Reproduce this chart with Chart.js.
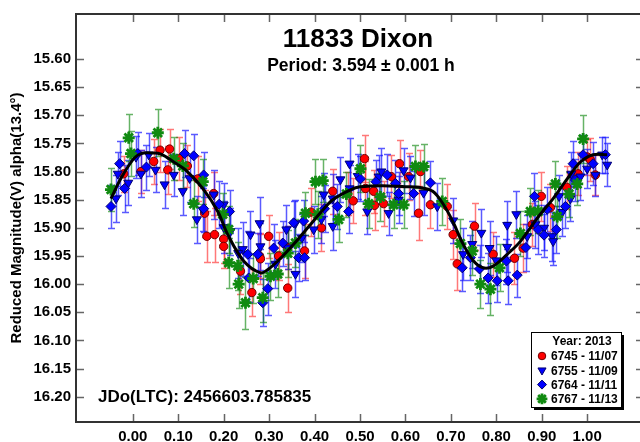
<!DOCTYPE html>
<html>
<head>
<meta charset="utf-8">
<script src="https://cdn.jsdelivr.net/npm/chart.js@4.4.0/dist/chart.umd.min.js"></script>
<style>
  html, body { margin: 0; padding: 0; background: #fff; overflow: hidden; }
  #wrap { width: 650px; height: 442px; }
</style>
</head>
<body>
<div id="wrap"><canvas id="lc" width="650" height="442"></canvas></div>
<script>
// axis ticks
const xTicks = [0.0, 0.1, 0.2, 0.3, 0.4, 0.5, 0.6, 0.7, 0.8, 0.9, 1.0];
const yTicks = [15.60, 15.65, 15.70, 15.75, 15.80, 15.85, 15.90, 15.95, 16.00, 16.05, 16.10, 16.15, 16.20];

// 6745 - 11/07
const redPhase = [-0.020, 0.018, 0.060, 0.077, 0.081, 0.101, 0.143, 0.158, 0.163, 0.178,
  0.180, 0.200, 0.200, 0.237, 0.262, 0.279, 0.281, 0.299, 0.321, 0.341,
  0.341, 0.378, 0.415, 0.440, 0.473, 0.510, 0.512, 0.530, 0.532, 0.552,
  0.569, 0.587, 0.607, 0.629, 0.633, 0.655, 0.692, 0.714, 0.752, 0.793,
  0.840, 0.859, 0.879, 0.899, 0.919, 0.980, 1.000, 1.007, 1.018, 0.046,
  0.120, 0.392, 0.485, 0.705, 0.955];
const redMag = [15.804, 15.800, 15.762, 15.797, 15.760, 15.777, 15.813, 15.874, 15.915, 15.839,
  15.912, 15.920, 15.933, 15.977, 16.015, 15.950, 15.955, 15.915, 15.950, 16.007,
  15.935, 15.941, 15.900, 15.835, 15.839, 15.777, 15.830, 15.835, 15.860, 15.857,
  15.809, 15.786, 15.809, 15.874, 15.800, 15.859, 15.862, 15.964, 15.897, 15.947,
  15.954, 15.936, 15.894, 15.844, 15.864, 15.804, 15.774, 15.779, 15.806, 15.782,
  15.790, 15.872, 15.852, 15.912, 15.828];
const redErr = [0.032, 0.038, 0.038, 0.042, 0.035, 0.038, 0.040, 0.042, 0.045, 0.038,
  0.048, 0.042, 0.038, 0.040, 0.042, 0.040, 0.044, 0.038, 0.042, 0.042,
  0.038, 0.048, 0.042, 0.040, 0.038, 0.042, 0.048, 0.038, 0.044, 0.040,
  0.038, 0.042, 0.042, 0.048, 0.038, 0.042, 0.040, 0.046, 0.042, 0.040,
  0.046, 0.042, 0.038, 0.044, 0.042, 0.038, 0.032, 0.038, 0.035, 0.040,
  0.038, 0.042, 0.040, 0.044, 0.038];

// 6755 - 11/09
const triPhase = [-0.037, -0.033, 0.007, 0.018, 0.035, 0.050, 0.070, 0.090, 0.110, 0.141,
  0.154, 0.178, 0.200, 0.200, 0.215, 0.242, 0.259, 0.279, 0.281, 0.314,
  0.338, 0.341, 0.358, 0.358, 0.398, 0.415, 0.420, 0.440, 0.440, 0.457,
  0.477, 0.477, 0.516, 0.541, 0.547, 0.563, 0.596, 0.611, 0.670, 0.705,
  0.727, 0.747, 0.767, 0.785, 0.824, 0.824, 0.844, 0.868, 0.886, 0.905,
  0.923, 0.925, 0.938, 0.963, 0.965, 0.985, 1.000, 1.018, 1.033, 1.044,
  -0.010, 0.125, 0.232, 0.372, 0.495, 0.585, 0.640, 0.800, 0.945];
const triMag = [15.848, 15.804, 15.774, 15.804, 15.770, 15.797, 15.823, 15.806, 15.835, 15.885,
  15.868, 15.841, 15.859, 15.899, 15.906, 15.938, 15.912, 15.892, 15.933, 15.964,
  15.903, 15.935, 15.892, 15.982, 15.903, 15.885, 15.841, 15.897, 15.848, 15.814,
  15.786, 15.830, 15.871, 15.809, 15.800, 15.874, 15.798, 15.811, 15.862, 15.887,
  15.947, 15.929, 15.909, 15.936, 15.895, 15.934, 15.876, 15.915, 15.894, 15.900,
  15.915, 15.924, 15.844, 15.848, 15.804, 15.809, 15.795, 15.806, 15.770, 15.788,
  15.820, 15.812, 15.945, 15.918, 15.808, 15.850, 15.838, 15.958, 15.872];
const triErr = [0.042, 0.038, 0.038, 0.042, 0.038, 0.040, 0.042, 0.038, 0.042, 0.042,
  0.038, 0.044, 0.038, 0.046, 0.042, 0.048, 0.042, 0.046, 0.042, 0.042,
  0.044, 0.038, 0.042, 0.040, 0.042, 0.042, 0.038, 0.042, 0.044, 0.040,
  0.046, 0.042, 0.040, 0.038, 0.042, 0.038, 0.040, 0.038, 0.042, 0.040,
  0.046, 0.042, 0.042, 0.048, 0.042, 0.044, 0.042, 0.038, 0.042, 0.040,
  0.044, 0.042, 0.038, 0.040, 0.038, 0.042, 0.035, 0.038, 0.032, 0.038,
  0.040, 0.042, 0.044, 0.042, 0.040, 0.042, 0.040, 0.044, 0.042];

// 6764 - 11/11
const diaPhase = [-0.048, -0.029, -0.018, 0.011, 0.114, 0.134, 0.156, 0.156, 0.213, 0.253,
  0.255, 0.275, 0.286, 0.297, 0.310, 0.330, 0.354, 0.365, 0.376, 0.378,
  0.422, 0.475, 0.501, 0.560, 0.578, 0.585, 0.618, 0.655, 0.725, 0.743,
  0.763, 0.782, 0.802, 0.822, 0.826, 0.846, 0.884, 0.892, 0.905, 0.912,
  0.932, 0.952, 0.969, 0.974, 0.991, 1.013, 1.040, 0.030, 0.190, 0.450,
  0.535, 0.865];
const diaMag = [15.862, 15.786, 15.830, 15.768, 15.768, 15.772, 15.806, 15.866, 15.871, 15.947,
  15.989, 15.947, 16.033, 16.008, 15.936, 15.927, 15.891, 15.953, 15.888, 15.953,
  15.866, 15.871, 15.813, 15.806, 15.821, 15.839, 15.839, 15.820, 15.971, 15.953,
  15.973, 15.989, 15.994, 15.959, 15.994, 15.984, 15.844, 15.903, 15.913, 15.867,
  15.903, 15.862, 15.786, 15.815, 15.770, 15.786, 15.770, 15.792, 15.858, 15.862,
  15.818, 15.935];
const diaErr = [0.038, 0.040, 0.042, 0.038, 0.042, 0.038, 0.040, 0.042, 0.038, 0.042,
  0.042, 0.038, 0.042, 0.046, 0.042, 0.040, 0.038, 0.042, 0.038, 0.040,
  0.042, 0.038, 0.040, 0.038, 0.042, 0.038, 0.040, 0.038, 0.042, 0.040,
  0.042, 0.044, 0.038, 0.040, 0.042, 0.038, 0.042, 0.044, 0.038, 0.040,
  0.042, 0.038, 0.040, 0.038, 0.035, 0.038, 0.032, 0.040, 0.042, 0.040,
  0.038, 0.042];

// 6767 - 11/13
const grnPhase = [-0.048, -0.009, -0.004, 0.055, 0.090, 0.134, 0.154, 0.198, 0.211, 0.211,
  0.231, 0.233, 0.248, 0.286, 0.303, 0.319, 0.341, 0.358, 0.380, 0.402,
  0.407, 0.418, 0.453, 0.501, 0.519, 0.574, 0.596, 0.622, 0.640, 0.681,
  0.721, 0.747, 0.765, 0.787, 0.807, 0.853, 0.875, 0.892, 0.930, 0.934,
  0.978, 0.991, 0.110, 0.265, 0.470, 0.545, 0.960];
const grnMag = [15.832, 15.740, 15.768, 15.731, 15.777, 15.857, 15.818, 15.876, 15.903, 15.962,
  15.968, 16.000, 16.033, 16.024, 15.986, 15.982, 15.945, 15.927, 15.874, 15.818,
  15.876, 15.816, 15.885, 15.795, 15.857, 15.859, 15.859, 15.791, 15.791, 15.853,
  15.928, 15.941, 16.000, 16.009, 15.971, 15.910, 15.871, 15.871, 15.822, 15.880,
  15.822, 15.742, 15.790, 15.990, 15.840, 15.845, 15.840];
const grnErr = [0.038, 0.042, 0.040, 0.042, 0.038, 0.042, 0.040, 0.038, 0.042, 0.044,
  0.042, 0.042, 0.046, 0.044, 0.042, 0.040, 0.042, 0.042, 0.038, 0.040,
  0.042, 0.038, 0.040, 0.042, 0.044, 0.042, 0.042, 0.038, 0.040, 0.042,
  0.044, 0.042, 0.042, 0.046, 0.042, 0.040, 0.042, 0.038, 0.040, 0.038,
  0.038, 0.042, 0.040, 0.044, 0.040, 0.042, 0.040];

// Fourier fit
const fitPhase = [-0.048, -0.026, 0.002, 0.018, 0.044, 0.062, 0.090, 0.120, 0.156, 0.187,
  0.209, 0.244, 0.281, 0.299, 0.319, 0.354, 0.391, 0.410, 0.440, 0.480,
  0.500, 0.550, 0.600, 0.630, 0.660, 0.684, 0.705, 0.727, 0.750, 0.771,
  0.793, 0.824, 0.853, 0.890, 0.925, 0.956, 0.985, 1.013, 1.044];
const fitMag = [15.848, 15.812, 15.777, 15.768, 15.767, 15.769, 15.783, 15.800, 15.832, 15.871,
  15.912, 15.959, 15.980, 15.973, 15.959, 15.929, 15.894, 15.876, 15.850, 15.832,
  15.827, 15.825, 15.827, 15.828, 15.835, 15.859, 15.890, 15.929, 15.959, 15.971,
  15.968, 15.947, 15.924, 15.883, 15.848, 15.813, 15.783, 15.770, 15.770];

const FONT = '"Liberation Sans", Arial, sans-serif';

function points(ph, mag, err) {
  return ph.map((x, i) => ({ x: x, y: mag[i], e: err ? err[i] : 0 }));
}

// vertical error bars with caps, drawn under the markers
const errorBars = {
  id: 'errorBars',
  beforeDatasetsDraw(chart) {
    const { ctx, scales: { x, y } } = chart;
    ctx.save();
    ctx.lineWidth = 1.5;
    chart.data.datasets.forEach(ds => {
      if (!ds.errColor) return;
      ctx.strokeStyle = ds.errColor;
      ds.data.forEach(p => {
        const px = Math.round(x.getPixelForValue(p.x)) + 0.5;
        const y1 = Math.round(y.getPixelForValue(p.y - p.e)) + 0.5;
        const y2 = Math.round(y.getPixelForValue(p.y + p.e)) + 0.5;
        ctx.beginPath();
        ctx.moveTo(px, y1); ctx.lineTo(px, y2);
        ctx.moveTo(px - 3.5, y1); ctx.lineTo(px + 3.5, y1);
        ctx.moveTo(px - 3.5, y2); ctx.lineTo(px + 3.5, y2);
        ctx.stroke();
      });
    });
    ctx.restore();
  }
};

// frame, inward ticks, titles and the legend box
const decor = {
  id: 'decor',
  afterDraw(chart) {
    const { ctx, chartArea: a, scales: { x, y } } = chart;
    ctx.save();
    ctx.strokeStyle = '#666';
    ctx.lineWidth = 1.5;
    ctx.beginPath();
    xTicks.forEach(v => {
      const px = Math.round(x.getPixelForValue(v)) + 0.5;
      ctx.moveTo(px, a.bottom); ctx.lineTo(px, a.bottom - 8);
      ctx.moveTo(px, a.top); ctx.lineTo(px, a.top + 8);
    });
    yTicks.forEach(v => {
      const py = Math.round(y.getPixelForValue(v)) + 0.5;
      ctx.moveTo(a.left, py); ctx.lineTo(a.left + 8, py);
      ctx.moveTo(a.right, py); ctx.lineTo(a.right - 8, py);
    });
    ctx.stroke();

    ctx.strokeStyle = '#333';
    ctx.lineWidth = 2;
    ctx.strokeRect(a.left, a.top, a.right - a.left, a.bottom - a.top);

    const cx = (a.left + a.right) / 2;
    ctx.fillStyle = '#000';
    ctx.textAlign = 'center';
    ctx.textBaseline = 'middle';
    ctx.font = 'bold 26px ' + FONT;
    ctx.fillText('11833 Dixon', cx - 2, 40);
    ctx.font = 'bold 17.5px ' + FONT;
    ctx.fillText('Period: 3.594 \u00b1 0.001 h', cx + 1, 66);

    ctx.textAlign = 'left';
    ctx.font = 'bold 17px ' + FONT;
    ctx.fillText('JDo(LTC): 2456603.785835', 98, 397);

    // legend
    const lx = 531, ly = 332, lw = 90, lh = 75;
    ctx.fillStyle = '#000';
    ctx.fillRect(lx + 3, ly + 3, lw, lh);
    ctx.fillStyle = '#fff';
    ctx.fillRect(lx, ly, lw, lh);
    ctx.strokeStyle = '#000';
    ctx.lineWidth = 1;
    ctx.strokeRect(lx + 0.5, ly + 0.5, lw, lh);

    ctx.fillStyle = '#000';
    ctx.font = 'bold 12px ' + FONT;
    ctx.textAlign = 'center';
    ctx.fillText('Year: 2013', lx + lw / 2 + 6, ly + 10);
    ctx.textAlign = 'left';
    chart.data.datasets.filter(ds => ds.errColor).forEach((ds, i) => {
      const ry = ly + 24 + i * 14.3;
      ctx.fillStyle = ds.backgroundColor;
      ctx.strokeStyle = ds.borderColor;
      ctx.lineWidth = ds.borderWidth;
      Chart.helpers.drawPoint(ctx, {
        pointStyle: ds.pointStyle, radius: ds.pointRadius * 0.9,
        rotation: ds.rotation || 0, borderWidth: ds.borderWidth
      }, lx + 11, ry);
      ctx.fillStyle = '#000';
      ctx.fillText(ds.label, lx + 20, ry + 1);
    });
    ctx.restore();
  }
};

new Chart(document.getElementById('lc'), {
  type: 'scatter',
  data: {
    datasets: [
      {
        label: '6745 - 11/07', data: points(redPhase, redMag, redErr),
        pointStyle: 'circle', pointRadius: 4.2, backgroundColor: '#ff0000',
        borderColor: '#700000', borderWidth: 1, errColor: 'rgba(255,30,30,0.6)', order: 4
      },
      {
        label: '6755 - 11/09', data: points(triPhase, triMag, triErr),
        pointStyle: 'triangle', rotation: 180, pointRadius: 5.2, backgroundColor: '#0000ff',
        borderColor: '#000070', borderWidth: 1, errColor: 'rgba(20,20,255,0.7)', order: 3
      },
      {
        label: '6764 - 11/11', data: points(diaPhase, diaMag, diaErr),
        pointStyle: 'rectRot', pointRadius: 5, backgroundColor: '#0000ff',
        borderColor: '#000070', borderWidth: 1, errColor: 'rgba(20,20,255,0.7)', order: 2
      },
      {
        label: '6767 - 11/13', data: points(grnPhase, grnMag, grnErr),
        pointStyle: 'star', pointRadius: 6, backgroundColor: '#108a10',
        borderColor: '#108a10', borderWidth: 2.8, errColor: 'rgba(0,128,0,0.6)', order: 1
      },
      {
        label: 'fit', data: points(fitPhase, fitMag),
        showLine: true, pointRadius: 0, borderColor: '#000', borderWidth: 3,
        tension: 0.35, order: 0
      }
    ]
  },
  options: {
    responsive: false,
    animation: false,
    devicePixelRatio: 1,
    layout: { padding: { top: 11, right: 6, left: 0, bottom: 0 }, autoPadding: false },
    plugins: { legend: { display: false }, tooltip: { enabled: false } },
    scales: {
      x: {
        type: 'linear', min: -0.125, max: 1.125,
        afterBuildTicks: s => { s.ticks = xTicks.map(v => ({ value: v })); },
        afterFit: s => { s.height = 20; },
        grid: { display: false, drawTicks: false },
        border: { display: false },
        ticks: {
          callback: v => v.toFixed(2), color: '#000', padding: 6,
          maxRotation: 0, autoSkip: false, font: { family: FONT, size: 15, weight: 'bold' }
        }
      },
      y: {
        type: 'linear', reverse: true, min: 15.52, max: 16.245,
        afterBuildTicks: s => { s.ticks = yTicks.map(v => ({ value: v })); },
        afterFit: s => { s.width = 76; },
        grid: { display: false, drawTicks: false },
        border: { display: false },
        ticks: {
          callback: v => v.toFixed(2), color: '#000', padding: 5,
          autoSkip: false, font: { family: FONT, size: 15, weight: 'bold' }
        },
        title: {
          display: true, text: 'Reduced Magnitude(V) alpha(13.4\u00b0)', color: '#000',
          padding: { top: 8, bottom: 0 }, font: { family: FONT, size: 15, weight: 'bold' }
        }
      }
    }
  },
  plugins: [errorBars, decor]
});
</script>
</body>
</html>
